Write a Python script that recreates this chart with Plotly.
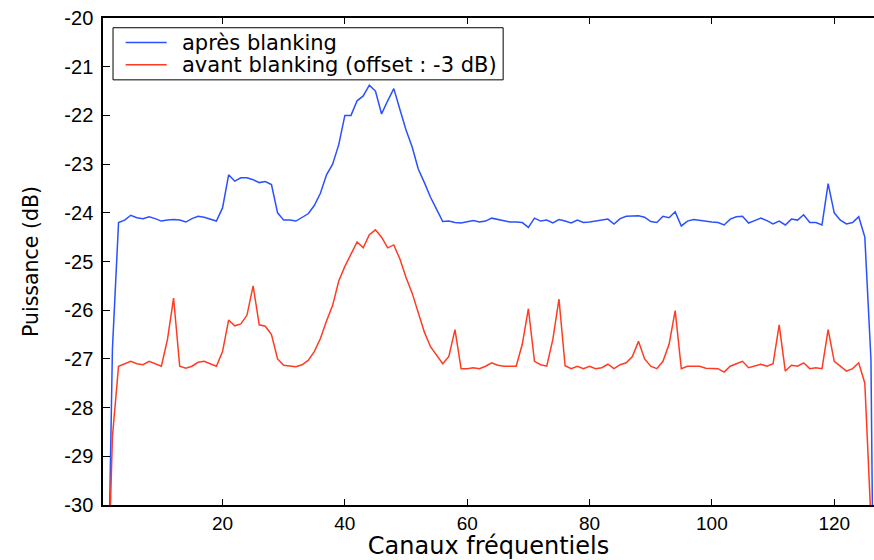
import plotly.graph_objects as go

# Channel index (frequency channels)
channels = list(range(1, 128))

# Power after blanking (dB)
apres_blanking = [
    -34.0, -26.8, -24.2, -24.15, -24.05, -24.1, -24.12, -24.08, -24.12, -24.17,
    -24.15, -24.14, -24.15, -24.19, -24.12, -24.07, -24.09, -24.13, -24.17, -23.9,
    -23.22, -23.35, -23.28, -23.28, -23.32, -23.38, -23.36, -23.42, -24.0, -24.15,
    -24.15, -24.17, -24.1, -24.02, -23.85, -23.6, -23.22, -23.0, -22.6, -22.0,
    -22.0, -21.7, -21.6, -21.38, -21.5, -21.97, -21.7, -21.45, -21.88, -22.3,
    -22.65, -23.1, -23.38, -23.68, -23.93, -24.18, -24.17, -24.2, -24.21, -24.19,
    -24.16, -24.19, -24.17, -24.11, -24.14, -24.17, -24.19, -24.19, -24.2, -24.3,
    -24.11, -24.17, -24.15, -24.21, -24.14, -24.17, -24.21, -24.15, -24.2, -24.19,
    -24.17, -24.14, -24.13, -24.23, -24.12, -24.07, -24.06, -24.06, -24.09, -24.18,
    -24.2, -24.07, -24.1, -23.98, -24.27, -24.17, -24.14, -24.16, -24.18, -24.19,
    -24.2, -24.25, -24.13, -24.08, -24.07, -24.21, -24.16, -24.11, -24.16, -24.23,
    -24.17, -24.25, -24.13, -24.15, -24.04, -24.2, -24.2, -24.25, -23.4, -24.0,
    -24.15, -24.23, -24.2, -24.08, -24.5, -27.0, -40.0,
]

# Power before blanking, shifted by -3 dB
avant_blanking = [
    -33.0, -28.6, -27.15, -27.1, -27.05, -27.1, -27.12, -27.05, -27.1, -27.15,
    -26.6, -25.75, -27.15, -27.19, -27.15, -27.07, -27.05, -27.1, -27.15, -26.85,
    -26.2, -26.32, -26.28, -26.1, -25.5, -26.3, -26.33, -26.5, -27.0, -27.13,
    -27.14, -27.16, -27.12, -27.03, -26.85, -26.58, -26.22, -25.9, -25.4, -25.1,
    -24.85, -24.6, -24.72, -24.45, -24.35, -24.5, -24.72, -24.66, -24.95, -25.33,
    -25.65, -26.05, -26.45, -26.75, -26.93, -27.1, -26.95, -26.4, -27.2, -27.2,
    -27.18, -27.2, -27.15, -27.08, -27.13, -27.15, -27.15, -27.15, -26.7, -25.97,
    -27.05, -27.12, -27.15, -26.6, -25.77, -27.14, -27.2, -27.15, -27.2, -27.15,
    -27.2, -27.18, -27.11, -27.2, -27.12, -27.08, -26.95, -26.64, -27.0, -27.15,
    -27.2, -27.05, -26.7, -26.01, -27.2, -27.15, -27.15, -27.15, -27.19, -27.2,
    -27.2, -27.27, -27.15, -27.1, -27.05, -27.18, -27.15, -27.11, -27.15, -27.1,
    -26.3, -27.25, -27.13, -27.15, -27.08, -27.2, -27.18, -27.2, -26.4, -27.05,
    -27.15, -27.25, -27.2, -27.08, -27.5, -30.3, -40.0,
]

series_names = ["après blanking", "avant blanking (offset : -3 dB)"]
series_colors = ["#2a50ff", "#ff3b22"]

x_ticks = [20, 40, 60, 80, 100, 120]
y_ticks = [-30, -29, -28, -27, -26, -25, -24, -23, -22, -21, -20]
y_tick_labels = ["-30", "-29", "-28", "-27", "-26", "-25", "-24", "-23", "-22", "-21", "-20"]

tick_font = "Liberation Sans, Arial, sans-serif"
label_font = "DejaVu Sans, sans-serif"

fig = go.Figure()
for values, name, color in zip([apres_blanking, avant_blanking], series_names, series_colors):
    fig.add_trace(go.Scatter(
        x=channels, y=values, mode="lines", name=name,
        line=dict(color=color, width=1.5), showlegend=False,
    ))

# Boxed legend in the upper-left corner (paper coordinates)
legend_box = dict(x0=0.013, x1=0.519, y0=0.873, y1=0.980)
legend_rows_y = [0.9495, 0.9039]
sample_x = (0.0294, 0.0826)
text_x = 0.1005

shapes = [dict(type="rect", xref="paper", yref="paper", **legend_box,
               line=dict(color="black", width=1), fillcolor="white", layer="above")]
annotations = []
for name, color, ry in zip(series_names, series_colors, legend_rows_y):
    shapes.append(dict(type="line", xref="paper", yref="paper",
                       x0=sample_x[0], x1=sample_x[1], y0=ry, y1=ry,
                       line=dict(color=color, width=1.5), layer="above"))
    annotations.append(dict(xref="paper", yref="paper", x=text_x, y=ry,
                            xanchor="left", yanchor="middle", showarrow=False,
                            text=name, font=dict(family=label_font, size=21, color="black")))

fig.update_layout(
    width=874, height=560,
    margin=dict(l=103, r=0, t=18, b=53),
    paper_bgcolor="white", plot_bgcolor="white",
    font=dict(family=tick_font, size=20, color="black"),
    shapes=shapes,
    annotations=annotations,
    xaxis=dict(
        range=[0.46, 126.5],
        tickmode="array", tickvals=x_ticks,
        ticks="inside", ticklen=6, tickcolor="black",
        showline=True, linecolor="black", linewidth=1.5, mirror="ticks",
        showgrid=False, zeroline=False,
        title=dict(text="Canaux fréquentiels",
                   font=dict(family=label_font, size=24), standoff=10),
        tickfont=dict(family=tick_font, size=19),
    ),
    yaxis=dict(
        range=[-30, -20],
        tickmode="array", tickvals=y_ticks, ticktext=y_tick_labels,
        ticks="inside", ticklen=7, tickcolor="black",
        showline=True, linecolor="black", linewidth=1.5, mirror=False,
        showgrid=False, zeroline=False, ticklabelstandoff=4,
        title=dict(text="Puissance (dB)",
                   font=dict(family=label_font, size=20.5), standoff=20),
        tickfont=dict(family=tick_font, size=20),
    ),
)

fig.write_html("out.html")
